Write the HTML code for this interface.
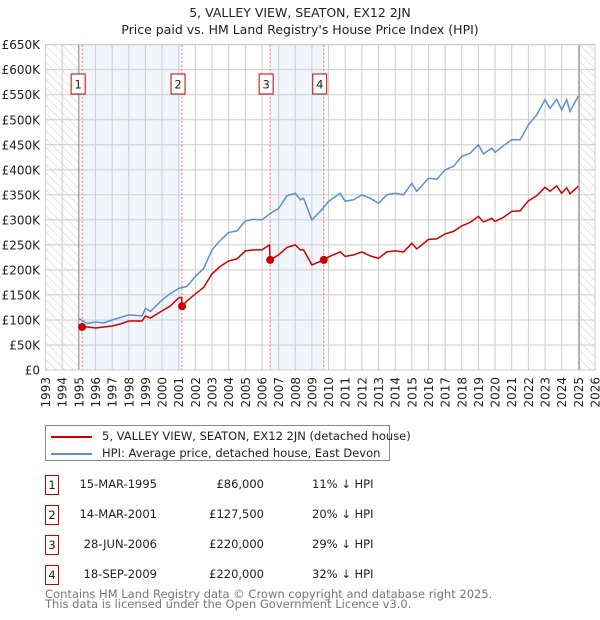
<!DOCTYPE html>
<html><head><meta charset="utf-8"><style>
body{margin:0;background:#fff;font-family:"DejaVu Sans","Liberation Sans",sans-serif;}
#wrap{position:relative;width:600px;height:620px;overflow:hidden;}
svg text{font-family:"DejaVu Sans","Liberation Sans",sans-serif;}
.c{position:absolute;white-space:nowrap;}
</style></head><body><div id="wrap">
<svg id="chart" width="600" height="620"></svg>
</div>
<script>
const hpiYears=[1995.0,1995.5,1996,1996.5,1997,1997.5,1998,1998.8,1999,1999.3,2000,2000.5,2001,2001.5,2002,2002.5,2003,2003.5,2004,2004.5,2005,2005.5,2006,2006.5,2007,2007.5,2008,2008.3,2008.5,2009,2009.5,2010,2010.7,2011,2011.5,2012,2012.5,2013,2013.5,2014,2014.5,2015,2015.3,2016,2016.5,2017,2017.5,2018,2018.5,2019,2019.3,2019.8,2020,2020.5,2021,2021.5,2022,2022.5,2023,2023.3,2023.7,2024,2024.3,2024.5,2025];
const hpiValues=[103,93,96,94,100,105,110,108,123,117,140,153,163,167,187,203,240,259,275,278,298,301,300,313,323,348,353,340,343,300,317,337,353,337,340,350,343,333,350,353,350,373,357,383,381,400,407,427,433,450,432,443,435,448,460,460,490,510,540,523,541,520,540,517,547];
const priceYears=[1995.0,1995.5,1996,1996.5,1997,1997.5,1998,1998.8,1999,1999.3,2000,2000.5,2001,2001.18,2001.2,2001.5,2002,2002.5,2003,2003.5,2004,2004.5,2005,2005.5,2006,2006.45,2006.49,2007,2007.5,2008,2008.3,2008.5,2009,2009.71,2010,2010.7,2011,2011.5,2012,2012.5,2013,2013.5,2014,2014.5,2015,2015.3,2016,2016.5,2017,2017.5,2018,2018.5,2019,2019.3,2019.8,2020,2020.5,2021,2021.5,2022,2022.5,2023,2023.3,2023.7,2024,2024.3,2024.5,2025];
const priceValues=[88,86,84,86,88,92,98,98,108,104,118,128,144,145,127.5,138,152,165,192,207,218,222,238,240,240,250,220,230,245,250,240,240,210,220,226,236,227,230,236,228,223,236,238,236,253,242,261,262,272,277,288,295,307,296,303,297,305,317,318,338,348,365,357,368,353,364,352,367];
const saleYears=[1995.2,2001.2,2006.49,2009.71];
const saleValues=[86,127.5,220,220];
const saleLabels=["1","2","3","4"];
const yTicks=[0,50,100,150,200,250,300,350,400,450,500,550,600,650];
const yTickLabels=["£0","£50K","£100K","£150K","£200K","£250K","£300K","£350K","£400K","£450K","£500K","£550K","£600K","£650K"];
const xTicks=[1993,1994,1995,1996,1997,1998,1999,2000,2001,2002,2003,2004,2005,2006,2007,2008,2009,2010,2011,2012,2013,2014,2015,2016,2017,2018,2019,2020,2021,2022,2023,2024,2025,2026];

const NS="http://www.w3.org/2000/svg";
const svg=document.getElementById('chart');
const L=45.5,R=595,T=44.7,B=370;
const X=y=>L+(y-1993)/(2026-1993)*(R-L);
const Y=v=>B-v/650*(B-T);
function mk(tag,attrs,parent){const e=document.createElementNS(NS,tag);for(const k in attrs)e.setAttribute(k,attrs[k]);(parent||svg).appendChild(e);return e;}

const defs=mk('defs',{});
const pat=mk('pattern',{id:'hatch',width:6,height:6,patternUnits:'userSpaceOnUse',patternTransform:'rotate(-45)'},defs);
mk('line',{x1:0,y1:0,x2:0,y2:6,stroke:'#ccc','stroke-width':1},pat);

let t=mk('text',{x:300,y:17,'text-anchor':'middle','font-size':12.5,fill:'#222'});t.textContent='5, VALLEY VIEW, SEATON, EX12 2JN';

t=mk('text',{x:300,y:34,'text-anchor':'middle','font-size':12.5,fill:'#222'});t.textContent="Price paid vs. HM Land Registry's House Price Index (HPI)";


for(let i=0;i<saleYears.length;i+=2){
  const r=mk('rect',{x:X(saleYears[i]),y:T,width:X(saleYears[i+1])-X(saleYears[i]),height:B-T,fill:'#eef2fb',opacity:0.8});
  
  
}
let h=mk('rect',{x:L,y:T,width:X(1995)-L,height:B-T,fill:'url(#hatch)'});

h=mk('rect',{x:X(2025.05),y:T,width:R-X(2025.05),height:B-T,fill:'url(#hatch)'});


yTicks.forEach((v,i)=>{
  const g=mk('line',{x1:L,x2:R,y1:Y(v),y2:Y(v),stroke:'#ccc','stroke-width':1});
  
  
  const tx=mk('text',{x:40,y:Y(v)+4.5,'text-anchor':'end','font-size':12,fill:'#222'});tx.textContent=yTickLabels[i];
  
  
});
xTicks.forEach(yr=>{
  const g=mk('line',{x1:X(yr),x2:X(yr),y1:T,y2:B,stroke:'#ccc','stroke-width':1});
  
  
  const tx=mk('text',{x:0,y:0,'text-anchor':'end','font-size':12,fill:'#222',transform:`translate(${X(yr)+4.5},377) rotate(-90)`});tx.textContent=yr;
  
  
});
mk('line',{x1:X(1995),x2:X(1995),y1:T,y2:B,stroke:'#888','stroke-width':1});
mk('line',{x1:X(2025.05),x2:X(2025.05),y1:T,y2:B,stroke:'#888','stroke-width':1});

saleYears.forEach(s=>{
  const l=mk('line',{x1:X(s),x2:X(s),y1:T,y2:B,stroke:'#f07070','stroke-width':1,'stroke-dasharray':'2,2'});
  
  
});

function pathOf(xs,vs){return xs.map((x,i)=>(i?'L':'M')+X(x).toFixed(1)+','+Y(vs[i]).toFixed(1)).join(' ');}
let p=mk('path',{d:pathOf(hpiYears,hpiValues),fill:'none',stroke:'#5b8fd4','stroke-width':1.5});

p=mk('path',{d:pathOf(priceYears,priceValues),fill:'none',stroke:'#cc0000','stroke-width':1.5});


saleYears.forEach((s,i)=>{
  const c=mk('circle',{cx:X(s),cy:Y(saleValues[i]),r:4,fill:'#cc0000'});
  
  
  const g=mk('g',{});
  
  
  const cx=X(s)-(i%2===0?4:-4)-(i===1?8:0)-(i===3?8:0);
  mk('rect',{x:cx-7,y:74,width:14,height:20,fill:'#fff',stroke:'#cc0000','stroke-width':1},g);
  const tx=mk('text',{x:cx,y:88.5,'text-anchor':'middle','font-size':11.5,fill:'#222'},g);tx.textContent=saleLabels[i];
});
mk('rect',{x:L,y:T,width:R-L,height:B-T,fill:'none',stroke:'#ccc'});
</script>
<div style="position:absolute;left:45px;top:425px;width:345px;height:36px;border:1px solid #888;box-sizing:border-box;font-size:11.5px;color:#222;">
  <div style="position:absolute;left:5px;top:3px;white-space:nowrap;"><span style="display:inline-block;width:41px;height:2px;background:#cc0000;vertical-align:middle;margin-right:10px;"></span>5, VALLEY VIEW, SEATON, EX12 2JN (detached house)</div>
  <div style="position:absolute;left:5px;top:20px;white-space:nowrap;"><span style="display:inline-block;width:41px;height:2px;background:#5b8fd4;vertical-align:middle;margin-right:10px;"></span>HPI: Average price, detached house, East Devon</div>
</div>
<div style="position:absolute;left:0;top:0;width:600px;font-size:11.5px;color:#222;">
  <div>
    <div class="c" style="left:45px;top:475px;width:14px;height:20px;border:1px solid #cc0000;box-sizing:border-box;text-align:center;line-height:18px;">1</div>
    <div class="c" style="left:60px;width:97px;text-align:right;top:477px;">15-MAR-1995</div>
    <div class="c" style="left:180px;width:84px;text-align:right;top:477px;">£86,000</div>
    <div class="c" style="left:312px;top:477px;">11% ↓ HPI</div>
  </div>
  <div>
    <div class="c" style="left:45px;top:505px;width:14px;height:20px;border:1px solid #cc0000;box-sizing:border-box;text-align:center;line-height:18px;">2</div>
    <div class="c" style="left:60px;width:97px;text-align:right;top:507px;">14-MAR-2001</div>
    <div class="c" style="left:180px;width:84px;text-align:right;top:507px;">£127,500</div>
    <div class="c" style="left:312px;top:507px;">20% ↓ HPI</div>
  </div>
  <div>
    <div class="c" style="left:45px;top:535px;width:14px;height:20px;border:1px solid #cc0000;box-sizing:border-box;text-align:center;line-height:18px;">3</div>
    <div class="c" style="left:60px;width:97px;text-align:right;top:537px;">28-JUN-2006</div>
    <div class="c" style="left:180px;width:84px;text-align:right;top:537px;">£220,000</div>
    <div class="c" style="left:312px;top:537px;">29% ↓ HPI</div>
  </div>
  <div>
    <div class="c" style="left:45px;top:565px;width:14px;height:20px;border:1px solid #cc0000;box-sizing:border-box;text-align:center;line-height:18px;">4</div>
    <div class="c" style="left:60px;width:97px;text-align:right;top:567px;">18-SEP-2009</div>
    <div class="c" style="left:180px;width:84px;text-align:right;top:567px;">£220,000</div>
    <div class="c" style="left:312px;top:567px;">32% ↓ HPI</div>
  </div>
</div>
<div style="position:absolute;left:45px;top:589px;font-size:11.5px;color:#777;line-height:10px;white-space:nowrap;">Contains HM Land Registry data © Crown copyright and database right 2025.<br>This data is licensed under the Open Government Licence v3.0.</div>
</body></html>
